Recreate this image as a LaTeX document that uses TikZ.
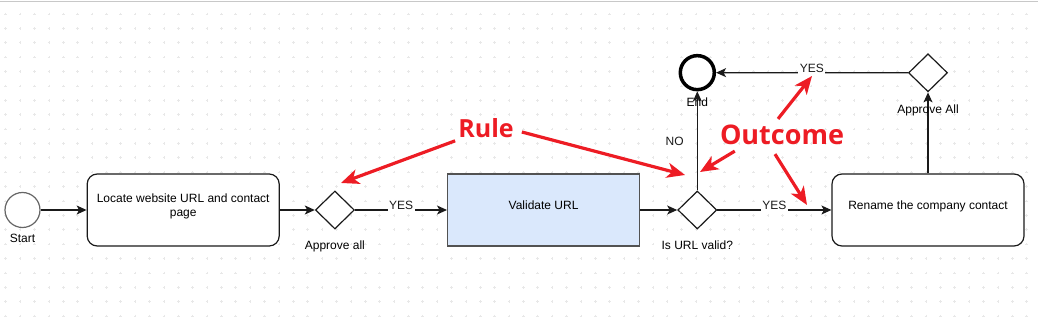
\documentclass[tikz,border=0pt]{standalone}
\usepackage{fontspec}
\setmainfont{Liberation Sans}
\newfontfamily\notefont{Open Sans}
\usetikzlibrary{positioning, shapes.geometric, arrows.meta}
\definecolor{bpmnLine}{HTML}{1A1A1A}
\definecolor{bpmnGrey}{HTML}{666666}
\definecolor{bpmnBlue}{HTML}{DAE8FC}
\definecolor{noteRed}{HTML}{ED1C24}
\definecolor{gridDot}{HTML}{E8E8E8}
\definecolor{topRule}{HTML}{C8C8C8}

\begin{document}
\begin{tikzpicture}[x=1pt, y=-1pt, font=\fontsize{12}{13.5}\selectfont,
  task/.style={draw=bpmnLine, line width=1.2pt, rounded corners=10pt, fill=white,
    minimum width=192pt, minimum height=72pt, inner sep=0pt},
  tasktext/.style={yshift=3.5pt, align=center, text depth=2.5pt, inner sep=0pt},
  gateway/.style={diamond, draw=bpmnLine, line width=1.2pt, fill=white,
    minimum width=39pt, minimum height=38pt, inner sep=0pt},
  startev/.style={circle, draw=bpmnGrey, line width=1.2pt, fill=white,
    minimum size=35pt, inner sep=0pt},
  endev/.style={circle, draw=black, line width=3.5pt, fill=white,
    minimum size=34pt, inner sep=0pt},
  lbl/.style={inner sep=0pt},
  yes/.style={anchor=base, fill=white, inner sep=1.5pt},
  flow/.style={-{Stealth[length=10pt, width=9pt, inset=2.5pt]}, bpmnLine, line width=1.2pt},
  note/.style={text=noteRed, inner sep=0pt},
  notearr/.style={-{Stealth[length=18pt, width=15pt, inset=5pt]}, noteRed, line width=3.2pt}]

\useasboundingbox (0,0) rectangle (1038,320);
% canvas dots and top edge
\foreach \i in {0,...,71}
  \foreach \j in {0,...,21}
    \draw[gridDot, line width=0.6pt] ({5.7+14.38*\i-1.3},{14+14.38*\j}) -- ++(2.6,0)
      ({5.7+14.38*\i},{14+14.38*\j-1.3}) -- ++(0,2.6);
\draw[topRule, line width=1.5pt] (0,1.5) -- (1038,1.5);

% main row
\node[startev] (start) at (22.5,210) {};
\node[task, right=46pt of start,
  label={[tasktext]center:Locate website URL and contact\\page}] (locate) {};
\node[gateway, right=35pt of locate] (gwApprove) {};
\node[task, sharp corners, fill=bpmnBlue, draw=bpmnGrey!80!black, right=92pt of gwApprove,
  label={[tasktext]center:Validate URL}] (validate) {};
\node[gateway, right=37pt of validate] (gwValid) {};
\node[task, right=114pt of gwValid,
  label={[tasktext]center:Rename the company contact}] (rename) {};

% upper row
\node[endev, above=99pt of gwValid] (endEv) {};
\node[gateway, above=81pt of rename] (gwApproveAll) {};

\draw[flow] (start) -- (locate);
\draw[flow] (locate) -- (gwApprove);
\draw[flow] (gwApprove) -- node[yes] {YES} (validate);
\draw[flow] (validate) -- (gwValid);
\draw[flow] (gwValid) -- node[yes] {YES} (rename);
\draw[flow] (gwValid) -- node[lbl, left=13pt] {NO} (endEv);
\draw[flow] (rename) -- (gwApproveAll);
\draw[flow] (gwApproveAll) -- node[yes] {YES} (endEv);

\node[lbl, below=6pt of start] (startLbl) {Start};
\node[lbl, below=11pt of gwApprove] (gwApproveLbl) {Approve all};
\node[lbl, below=11pt of gwValid] (gwValidLbl) {Is URL valid?};
\node[lbl, below=6.5pt of endEv] (endLbl) {End};
\node[lbl, below=12pt of gwApproveAll] (gwApproveAllLbl) {Approve All};

% red notes
\node[note, font=\notefont\bfseries\fontsize{25}{28}\selectfont] (rule) at (486,128) {Rule};
\node[note, font=\notefont\bfseries\fontsize{27}{30}\selectfont] (outcome) at (782,135) {Outcome};
\coordinate (tipApprove) at (341,183);
\coordinate (tipValid) at (685,175);
\coordinate (tipYesTop) at (812,76);
\coordinate (tipNoLine) at (700,172);
\coordinate (tipYesRight) at (807,205);

\draw[notearr] ([xshift=-3pt, yshift=-3pt]rule.south west) -- (tipApprove);
\draw[notearr] ([xshift=8pt, yshift=-4pt]rule.east) -- (tipValid);
\draw[notearr] ([xshift=-4pt, yshift=6pt]outcome.north) -- (tipYesTop);
\draw[notearr] ([xshift=15pt, yshift=-6pt]outcome.south west) -- (tipNoLine);
\draw[notearr] ([xshift=-7pt, yshift=-9pt]outcome.south) -- (tipYesRight);
\end{tikzpicture}
\end{document}
